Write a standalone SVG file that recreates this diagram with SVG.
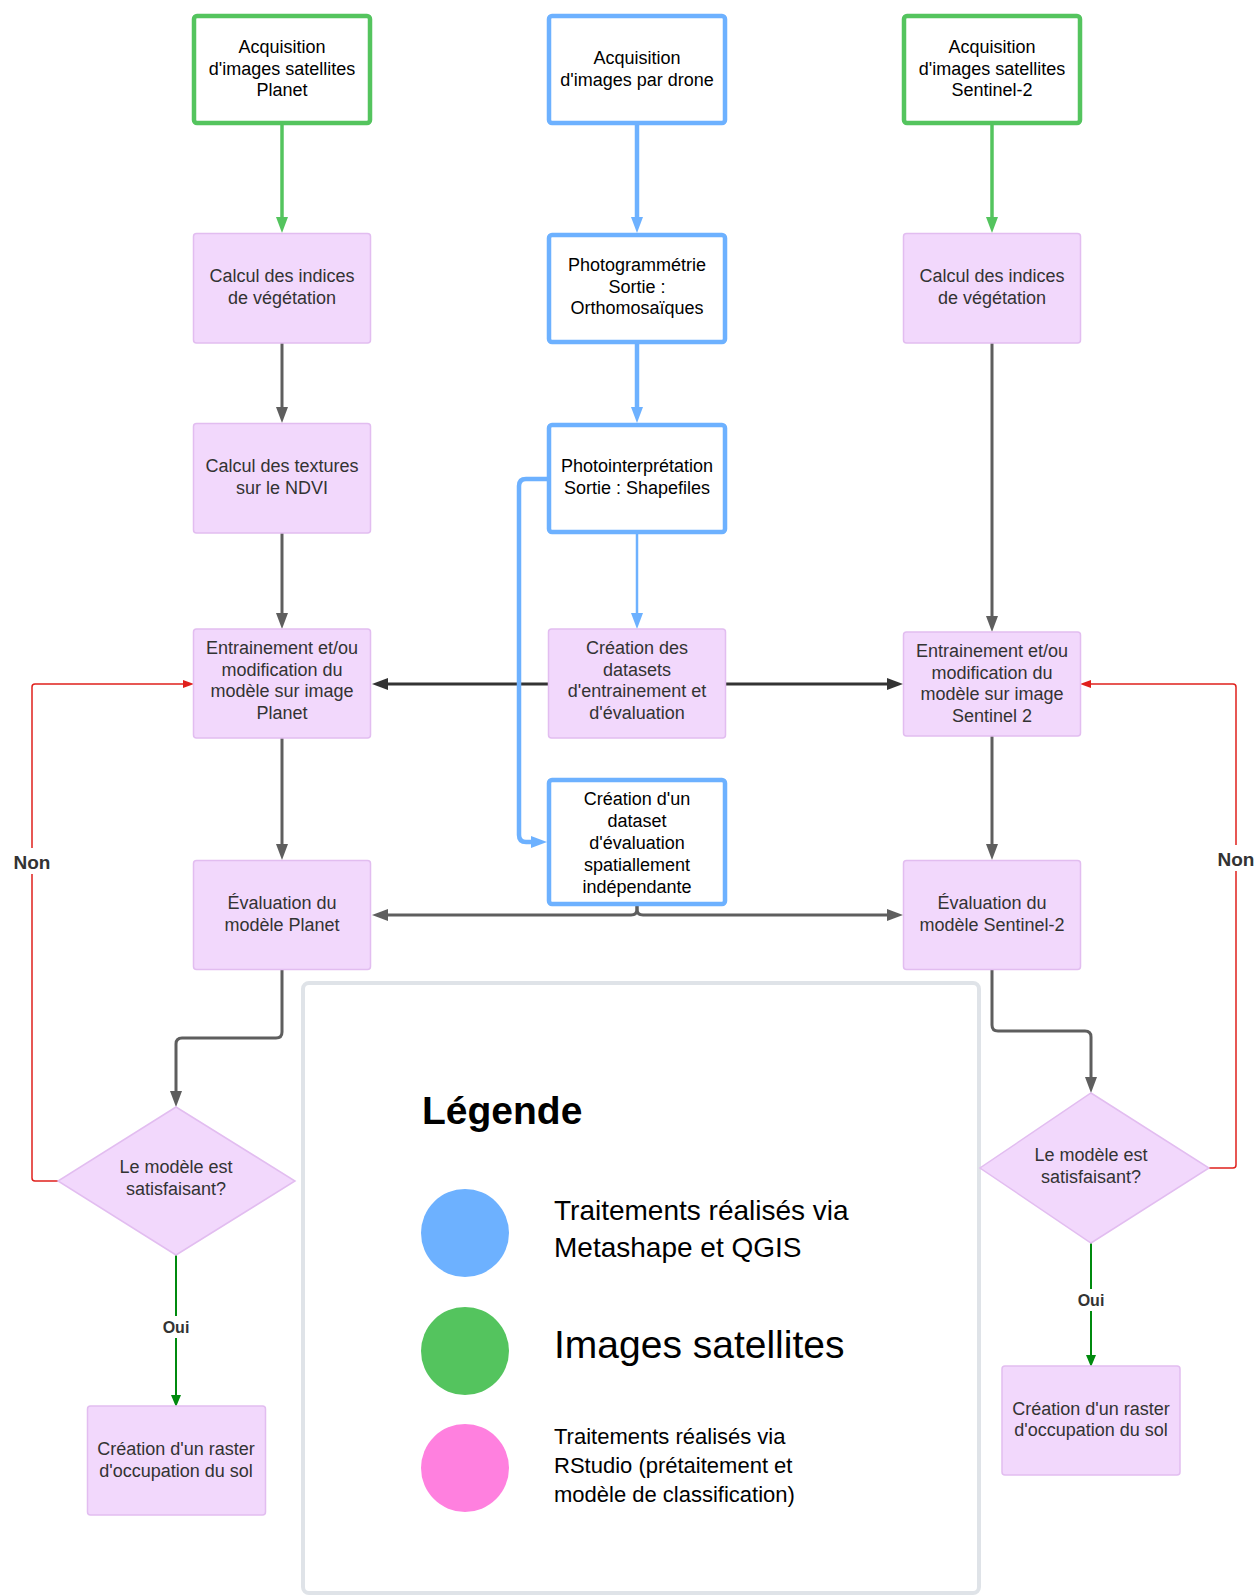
<svg xmlns="http://www.w3.org/2000/svg" width="1257" height="1596" viewBox="0 0 1257 1596">
<style>
text{font-family:"Liberation Sans",Arial,sans-serif;text-anchor:middle}
.t{font-size:18px;fill:#333}
.tw{font-size:18px;fill:#000}
.pink{fill:#f2d8fc;stroke:#e2bdf0;stroke-width:1.5}
.wg{fill:#fff;stroke:#54c45e;stroke-width:4.5}
.wb{fill:#fff;stroke:#6db1ff;stroke-width:4.5}
.c{fill:none;stroke-linejoin:round}
.green{stroke:#54c45e;stroke-width:3.5}
.blue{stroke:#6db1ff;stroke-width:4.5}
.blue2{stroke:#6db1ff;stroke-width:2.5}
.gray{stroke:#5e5e5e;stroke-width:3}
.dark{stroke:#333;stroke-width:3}
.red{stroke:#e0201c;stroke-width:1.5}
.oui{stroke:#008a0e;stroke-width:2}
.lbl{font-weight:bold;fill:#333}
.leg{fill:#000;text-anchor:start}
</style>
<defs>
<marker id="aG" viewBox="0 0 16 12" refX="6" refY="6" markerWidth="16" markerHeight="12" markerUnits="userSpaceOnUse" orient="auto"><path d="M0,0 L16,6 L0,12 z" fill="#54c45e"/></marker>
<marker id="aB" viewBox="0 0 16 12" refX="6" refY="6" markerWidth="16" markerHeight="12" markerUnits="userSpaceOnUse" orient="auto"><path d="M0,0 L16,6 L0,12 z" fill="#6db1ff"/></marker>
<marker id="aGr" viewBox="0 0 16 12" refX="6" refY="6" markerWidth="16" markerHeight="12" markerUnits="userSpaceOnUse" orient="auto"><path d="M0,0 L16,6 L0,12 z" fill="#5e5e5e"/></marker>
<marker id="aD" viewBox="0 0 16 12" refX="6" refY="6" markerWidth="16" markerHeight="12" markerUnits="userSpaceOnUse" orient="auto"><path d="M0,0 L16,6 L0,12 z" fill="#333"/></marker>
<marker id="aR" viewBox="0 0 11 8" refX="5" refY="4" markerWidth="11" markerHeight="8" markerUnits="userSpaceOnUse" orient="auto"><path d="M0,0 L11,4 L0,8 z" fill="#e0201c"/></marker>
<marker id="aO" viewBox="0 0 12 10" refX="5" refY="5" markerWidth="12" markerHeight="10" markerUnits="userSpaceOnUse" orient="auto"><path d="M0,0 L12,5 L0,10 z" fill="#008a0e"/></marker>
</defs>
<rect width="1257" height="1596" fill="#fff"/>

<g id="legend">
<rect x="303" y="983" width="676" height="610" rx="6" fill="#fff" stroke="#dfe3e8" stroke-width="4"/>
<text x="422" y="1124" style="font-size:39px;font-weight:bold;fill:#000;text-anchor:start">Légende</text>
<ellipse cx="465" cy="1233" rx="44" ry="44" fill="#6db1ff"/>
<ellipse cx="465" cy="1351" rx="44" ry="44" fill="#54c45e"/>
<ellipse cx="465" cy="1468" rx="44" ry="44" fill="#ff80df"/>
<text class="leg" x="554" y="1220" font-size="28">Traitements réalisés via</text>
<text class="leg" x="554" y="1257" font-size="28">Metashape et QGIS</text>
<text class="leg" x="554" y="1358" font-size="39">Images satellites</text>
<text class="leg" x="554" y="1444" font-size="22">Traitements réalisés via</text>
<text class="leg" x="554" y="1473" font-size="22">RStudio (prétaitement et</text>
<text class="leg" x="554" y="1502" font-size="22">modèle de classification)</text>
</g>

<g id="connectors">
<path class="c green" d="M282,125 V223" marker-end="url(#aG)"/>
<path class="c blue" d="M637,125 V223" marker-end="url(#aB)"/>
<path class="c green" d="M992,125 V223" marker-end="url(#aG)"/>
<path class="c gray" d="M282,343 V413" marker-end="url(#aGr)"/>
<path class="c blue" d="M637,343 V413" marker-end="url(#aB)"/>
<path class="c gray" d="M282,533 V619" marker-end="url(#aGr)"/>
<path class="c gray" d="M992,343 V622" marker-end="url(#aGr)"/>
<path class="c blue2" d="M637,533 V619" marker-end="url(#aB)"/>
<path class="c dark" d="M548,684 H382" marker-end="url(#aD)"/>
<path class="c dark" d="M726,684 H893" marker-end="url(#aD)"/>
<path class="c blue" d="M548,479 H526 Q519,479 519,486 V835 Q519,842 526,842 H537" marker-end="url(#aB)"/>
<path class="c gray" d="M282,738 V850" marker-end="url(#aGr)"/>
<path class="c gray" d="M992,736 V850" marker-end="url(#aGr)"/>
<path class="c gray" d="M637,906 V909 Q637,915 631,915 H382" marker-end="url(#aGr)"/>
<path class="c gray" d="M637,906 V909 Q637,915 643,915 H893" marker-end="url(#aGr)"/>
<path class="c gray" d="M282,969 V1032 Q282,1038 276,1038 H182 Q176,1038 176,1044 V1097" marker-end="url(#aGr)"/>
<path class="c gray" d="M992,969 V1025 Q992,1031 998,1031 H1085 Q1091,1031 1091,1037 V1083" marker-end="url(#aGr)"/>
<path class="c red" d="M58,1181 H35 Q32,1181 32,1178 V687 Q32,684 35,684 H188" marker-end="url(#aR)"/>
<path class="c red" d="M1209,1168 H1233 Q1236,1168 1236,1165 V687 Q1236,684 1233,684 H1086" marker-end="url(#aR)"/>
<path class="c oui" d="M176,1255 V1400" marker-end="url(#aO)"/>
<path class="c oui" d="M1091,1243 V1360" marker-end="url(#aO)"/>
<rect x="10" y="848" width="44" height="26" fill="#fff"/>
<text class="lbl" x="32" y="869" font-size="19">Non</text>
<rect x="1214" y="845" width="44" height="26" fill="#fff"/>
<text class="lbl" x="1236" y="866" font-size="19">Non</text>
<rect x="158" y="1316" width="36" height="22" fill="#fff"/>
<text class="lbl" x="176" y="1333" font-size="16">Oui</text>
<rect x="1073" y="1289" width="36" height="22" fill="#fff"/>
<text class="lbl" x="1091" y="1306" font-size="16">Oui</text>
</g>

<g id="n-planet-acq"><rect class="wg" x="194" y="16" width="176" height="107" rx="3"/>
<text class="tw" x="282" y="53">Acquisition</text><text class="tw" x="282" y="74.6">d'images satellites</text><text class="tw" x="282" y="96.2">Planet</text></g>
<g id="n-drone-acq"><rect class="wb" x="549" y="16" width="176" height="107" rx="3"/>
<text class="tw" x="637" y="64.3">Acquisition</text><text class="tw" x="637" y="85.9">d'images par drone</text></g>
<g id="n-s2-acq"><rect class="wg" x="904" y="16" width="176" height="107" rx="3"/>
<text class="tw" x="992" y="53">Acquisition</text><text class="tw" x="992" y="74.6">d'images satellites</text><text class="tw" x="992" y="96.2">Sentinel-2</text></g>

<g id="n-planet-indices"><rect class="pink" x="193.5" y="233.5" width="177" height="109.5" rx="3"/>
<text class="t" x="282" y="282">Calcul des indices</text><text class="t" x="282" y="303.6">de végétation</text></g>
<g id="n-photogram"><rect class="wb" x="549" y="235" width="176" height="107" rx="3"/>
<text class="tw" x="637" y="271">Photogrammétrie</text><text class="tw" x="637" y="292.6">Sortie :</text><text class="tw" x="637" y="314.2">Orthomosaïques</text></g>
<g id="n-s2-indices"><rect class="pink" x="903.5" y="233.5" width="177" height="109.5" rx="3"/>
<text class="t" x="992" y="282">Calcul des indices</text><text class="t" x="992" y="303.6">de végétation</text></g>

<g id="n-textures"><rect class="pink" x="193.5" y="423.5" width="177" height="109.5" rx="3"/>
<text class="t" x="282" y="472">Calcul des textures</text><text class="t" x="282" y="493.6">sur le NDVI</text></g>
<g id="n-photointerp"><rect class="wb" x="549" y="425" width="176" height="107" rx="3"/>
<text class="tw" x="637" y="472">Photointerprétation</text><text class="tw" x="637" y="493.6">Sortie : Shapefiles</text></g>

<g id="n-planet-train"><rect class="pink" x="193.5" y="629" width="177" height="109" rx="3"/>
<text class="t" x="282" y="654">Entrainement et/ou</text><text class="t" x="282" y="675.7">modification du</text><text class="t" x="282" y="697.4">modèle sur image</text><text class="t" x="282" y="719.1">Planet</text></g>
<g id="n-datasets"><rect class="pink" x="548.5" y="629" width="177" height="109" rx="3"/>
<text class="t" x="637" y="654">Création des</text><text class="t" x="637" y="675.7">datasets</text><text class="t" x="637" y="697.4">d'entrainement et</text><text class="t" x="637" y="719.1">d'évaluation</text></g>
<g id="n-s2-train"><rect class="pink" x="903.5" y="632" width="177" height="104" rx="3"/>
<text class="t" x="992" y="657">Entrainement et/ou</text><text class="t" x="992" y="678.7">modification du</text><text class="t" x="992" y="700.4">modèle sur image</text><text class="t" x="992" y="722.1">Sentinel 2</text></g>

<g id="n-eval-dataset"><rect class="wb" x="549" y="780" width="176" height="124" rx="3"/>
<text class="tw" x="637" y="805">Création d'un</text><text class="tw" x="637" y="826.9">dataset</text><text class="tw" x="637" y="848.8">d'évaluation</text><text class="tw" x="637" y="870.7">spatiallement</text><text class="tw" x="637" y="892.6">indépendante</text></g>

<g id="n-planet-eval"><rect class="pink" x="193.5" y="860.5" width="177" height="109" rx="3"/>
<text class="t" x="282" y="909">Évaluation du</text><text class="t" x="282" y="930.6">modèle Planet</text></g>
<g id="n-s2-eval"><rect class="pink" x="903.5" y="860.5" width="177" height="109" rx="3"/>
<text class="t" x="992" y="909">Évaluation du</text><text class="t" x="992" y="930.6">modèle Sentinel-2</text></g>

<g id="n-planet-decision"><polygon class="pink" points="176,1107 295,1181 176,1255 58,1181"/>
<text class="t" x="176" y="1173">Le modèle est</text><text class="t" x="176" y="1195">satisfaisant?</text></g>
<g id="n-s2-decision"><polygon class="pink" points="1091,1093 1209,1168 1091,1243 980,1168"/>
<text class="t" x="1091" y="1161">Le modèle est</text><text class="t" x="1091" y="1183">satisfaisant?</text></g>

<g id="n-planet-raster"><rect class="pink" x="87.5" y="1406" width="178" height="109" rx="3"/>
<text class="t" x="176" y="1455">Création d'un raster</text><text class="t" x="176" y="1476.6">d'occupation du sol</text></g>
<g id="n-s2-raster"><rect class="pink" x="1002" y="1366" width="178" height="109" rx="3"/>
<text class="t" x="1091" y="1414.5">Création d'un raster</text><text class="t" x="1091" y="1436.1">d'occupation du sol</text></g>
</svg>
